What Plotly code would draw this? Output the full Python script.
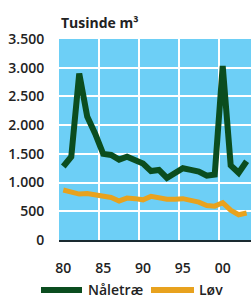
import plotly.graph_objects as go

years = list(range(80, 104))
naaletrae = [1280, 1450, 2900, 2150, 1850, 1500, 1480, 1400, 1450, 1400, 1330, 1200,
             1220, 1080, 1180, 1250, 1220, 1190, 1120, 1140, 3030, 1300, 1170, 1370]
loev = [870, 830, 800, 810, 780, 760, 740, 680, 730, 720, 700, 760,
        730, 710, 710, 720, 690, 660, 600, 590, 650, 520, 440, 470]
x_ticks = [80, 85, 90, 95, 100]
x_labels = ["80", "85", "90", "95", "00"]
y_ticks = [0, 500, 1000, 1500, 2000, 2500, 3000, 3500]
y_labels = ["0", "500", "1.000", "1.500", "2.000", "2.500", "3.000", "3.500"]
series_names = ["Nåletræ", "Løv"]
title_text = "Tusinde m³"

GREEN = "#0b4d1f"
ORANGE = "#e8a21e"
BLUE = "#6dcff6"
FONT = "Open Sans"
TXT = "#222222"

fig = go.Figure()
fig.add_trace(go.Scatter(x=years, y=loev, mode="lines", name=series_names[1],
                         line=dict(color=ORANGE, width=5), showlegend=False))
fig.add_trace(go.Scatter(x=years, y=naaletrae, mode="lines", name=series_names[0],
                         line=dict(color=GREEN, width=6), showlegend=False))

fig.update_layout(
    width=251, height=298,
    margin=dict(l=59, r=0, t=39, b=58, autoexpand=False),
    paper_bgcolor="white", plot_bgcolor=BLUE,
    font=dict(family=FONT, size=14, color=TXT, weight=600),
    showlegend=False,
)
fig.update_xaxes(
    range=[79.46, 103.55], tickvals=x_ticks, ticktext=x_labels,
    showgrid=False, zeroline=False, automargin=False,
    ticks="outside", ticklen=14, tickcolor="rgba(0,0,0,0)",
    tickfont=dict(family=FONT, size=14, color=TXT, weight=600),
    minor=dict(tick0=84.5, dtick=5, showgrid=True, gridcolor="white", gridwidth=1.5),
    showline=True, linecolor="#1a2a30", linewidth=2,
)
fig.update_yaxes(
    range=[0, 3500], tickvals=y_ticks, ticktext=y_labels,
    showgrid=True, gridcolor="white", gridwidth=2, zeroline=False, automargin=False,
    ticks="outside", ticklen=11, tickcolor="rgba(0,0,0,0)",
    tickfont=dict(family=FONT, size=14, color=TXT, weight=600),
)

# title
fig.add_annotation(text=title_text, xref="paper", yref="paper", x=0, y=1.0,
                   yshift=17, xanchor="left", yanchor="middle", showarrow=False,
                   font=dict(family=FONT, size=14, color=TXT, weight=700))

# custom legend
H = 298 - 39 - 58
W = 251 - 59
def px_x(px):
    return (px - 59) / W
def px_y(py):
    return (240 - py) / H

leg_y = 290
items = [(series_names[0], GREEN, 41, 82, 86), (series_names[1], ORANGE, 151, 194, 197)]
for name, col, x0, x1, tx in items:
    fig.add_shape(type="line", xref="paper", yref="paper",
                  x0=px_x(x0), x1=px_x(x1), y0=px_y(leg_y), y1=px_y(leg_y),
                  line=dict(color=col, width=6))
    fig.add_annotation(text=name, xref="paper", yref="paper", x=px_x(tx), y=px_y(leg_y - 1),
                       xanchor="left", yanchor="middle", showarrow=False,
                       font=dict(family=FONT, size=14, color=TXT, weight=600))

fig.write_html("out.html", config={"displayModeBar": False},
               post_script="document.body.style.margin='0';document.body.style.overflow='hidden';")
